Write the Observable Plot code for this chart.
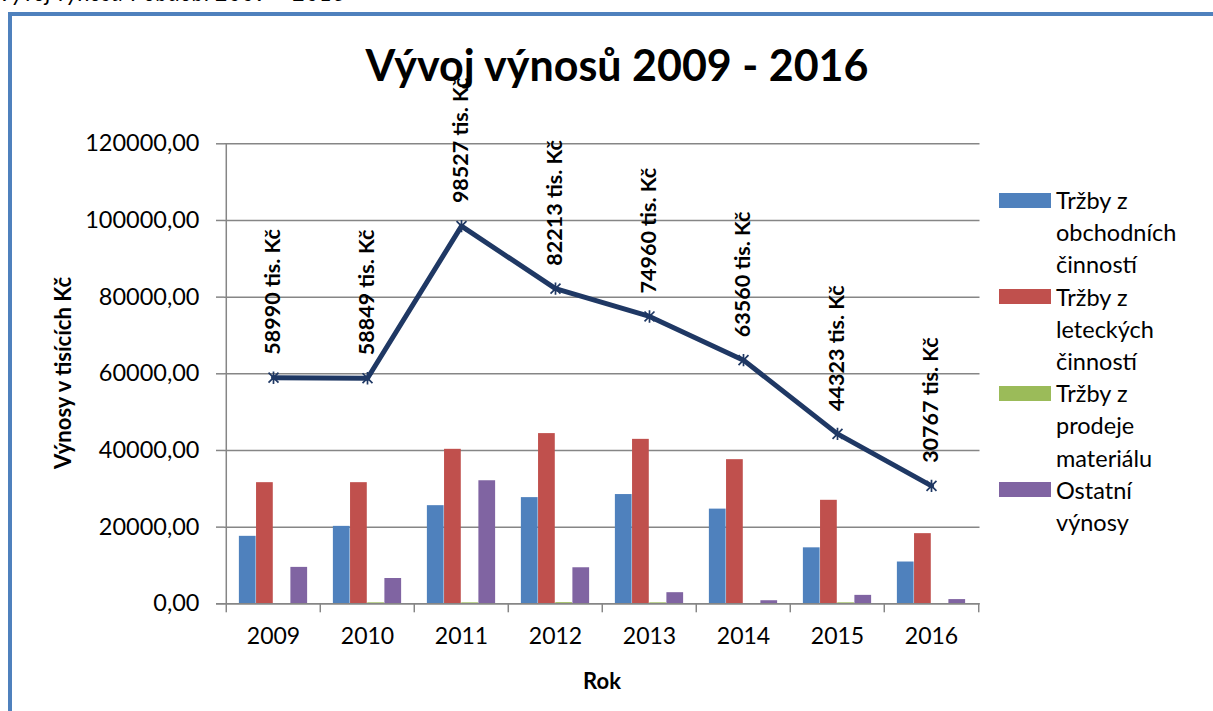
<!DOCTYPE html>
<html>
<head>
<meta charset="utf-8">
<script src="https://cdn.jsdelivr.net/npm/d3@7"></script>
<script src="https://cdn.jsdelivr.net/npm/@observablehq/plot@0.6"></script>
<style>
  html, body { margin: 0; padding: 0; background: #fff; }
  body { width: 1213px; height: 711px; position: relative; overflow: hidden; font-family: Lato, "Open Sans", sans-serif; color: #000; }
  .abs { position: absolute; white-space: nowrap; }
  #frame { position: absolute; left: 8px; top: 12px; width: 1300px; height: 800px; border-left: 4px solid #4F81BD; border-top: 4px solid #4F81BD; }
  #caption { left: -2px; top: -19px; font-size: 23px; font-style: italic; line-height: 23px; }
  #title { left: 0; width: 1234px; text-align: center; top: 43px; font-size: 43px; font-weight: bold; line-height: 43px; }
  #ytitle { left: 62px; top: 373px; font-size: 22px; font-weight: bold; transform: translate(-50%, -50%) rotate(-90deg); }
  #xtitle { left: 602px; top: 680px; font-size: 22px; font-weight: bold; transform: translate(-50%, -50%); }
  #legend { left: 999px; top: 184px; font-size: 23.5px; line-height: 32.2px; }
  .item { display: flex; align-items: flex-start; }
  .sw { width: 52px; height: 15px; margin-top: 8.5px; margin-right: 5px; flex: none; }
  #chart { position: absolute; left: 0; top: 0; }
</style>
</head>
<body>
<div id="frame"></div>
<div id="caption" class="abs">Vývoj výnosů v období 2009 – 2016</div>
<div id="chart"></div>
<div id="title" class="abs">Vývoj výnosů 2009 - 2016</div>
<div id="ytitle" class="abs">Výnosy v tisících Kč</div>
<div id="xtitle" class="abs">Rok</div>
<div id="legend" class="abs"></div>
<script>
// ---- data ----
const years = [2009, 2010, 2011, 2012, 2013, 2014, 2015, 2016];
const obchodni = [17600, 20200, 25600, 27700, 28500, 24700, 14600, 10900];
const letecke = [31600, 31600, 40300, 44400, 42900, 37600, 27000, 18300];
const material = [0, 250, 250, 300, 250, 0, 250, 0];
const ostatni = [9500, 6600, 32100, 9400, 2900, 800, 2200, 1100];
const celkem = [58990, 58849, 98527, 82213, 74960, 63560, 44323, 30767];
const seriesLabels = [
  ["Tržby z", "obchodních", "činností"],
  ["Tržby z", "leteckých", "činností"],
  ["Tržby z", "prodeje", "materiálu"],
  ["Ostatní", "výnosy"]
];
const seriesColors = ["#4F81BD", "#C0504D", "#9BBB59", "#8064A2"];
const yTicks = [0, 20000, 40000, 60000, 80000, 100000, 120000];

// ---- table ----
const seriesValues = [obchodni, letecke, material, ostatni];
const rows = years.map((y, i) => ({year: y, celkem: celkem[i], s: seriesValues.map(v => v[i])}));

// ---- layout ----
const W = 1213, H = 711;
const mL = 224, mR = 233.5, mT = 143.3, mB = 107.7;
const bw = (W - mL - mR) / years.length;
const barW = bw / (4 + 1.5);
const side = (bw - 4 * barW) / 2;
const plotH = H - mT - mB;
const gray = "#868686";
const lineColor = "#1F3864";

const star = {
  draw(ctx, size) {
    const r = Math.sqrt(size) / 2;
    const d = r * 0.8;
    ctx.moveTo(-d, -d); ctx.lineTo(d, d);
    ctx.moveTo(-d, d); ctx.lineTo(d, -d);
    ctx.moveTo(0, -r); ctx.lineTo(0, r);
  }
};

const fmt = d => d.toFixed(2).replace(".", ",");

const marks = [
  Plot.gridY(yTicks, {stroke: gray, strokeOpacity: 1, strokeWidth: 1.5}),
  ...seriesValues.map((vals, i) => Plot.barY(rows, {
    x: "year", y: d => d.s[i], y1: 0,
    fill: seriesColors[i],
    insetLeft: side + i * barW,
    insetRight: side + (3 - i) * barW
  })),
  // y axis line
  Plot.ruleX([years[0]], {dx: -bw / 2, stroke: gray, strokeWidth: 1.5}),
  // x axis line (extends across the left tick)
  Plot.ruleY([0], {stroke: gray, strokeWidth: 1.5, insetLeft: -8}),
  // x category boundary ticks
  Plot.ruleX(years, {dx: -bw / 2, stroke: gray, strokeWidth: 1.5, insetTop: plotH, insetBottom: -9}),
  Plot.ruleX([years[years.length - 1]], {dx: bw / 2, stroke: gray, strokeWidth: 1.5, insetTop: plotH, insetBottom: -9}),
  Plot.axisY(yTicks, {tickSize: 8, tickPadding: 17, tickFormat: fmt, stroke: gray, strokeWidth: 1.5, fill: "#000", fontSize: 23.5, label: null}),
  Plot.axisX(years, {tickSize: 0, tickPadding: 24, tickFormat: d => String(d), fill: "#000", fontSize: 23, label: null}),
  Plot.line(rows, {x: "year", y: "celkem", stroke: lineColor, strokeWidth: 5, strokeLinejoin: "round"}),
  Plot.dot(rows, {x: "year", y: "celkem", symbol: star, r: 7, stroke: lineColor, strokeWidth: 1.7, fill: "none"}),
  Plot.text(rows, {x: "year", y: "celkem", text: d => `${d.celkem} tis. Kč`, rotate: -90, textAnchor: "start", lineAnchor: "middle", dy: -23, fontWeight: "bold", fontSize: 21.5, fill: "#000"})
];

const chart = Plot.plot({
  width: W, height: H,
  marginLeft: mL, marginRight: mR, marginTop: mT, marginBottom: mB,
  style: {fontFamily: "Lato, 'Open Sans', sans-serif", background: "transparent", overflow: "visible"},
  x: {type: "band", domain: years, padding: 0, axis: null},
  y: {domain: [0, 120000], axis: null},
  marks
});
document.getElementById("chart").appendChild(chart);

// ---- legend ----
const legend = document.getElementById("legend");
seriesLabels.forEach((lines, i) => {
  const item = document.createElement("div");
  item.className = "item";
  const sw = document.createElement("div");
  sw.className = "sw";
  sw.style.background = seriesColors[i];
  const txt = document.createElement("div");
  txt.innerHTML = lines.join("<br>");
  item.appendChild(sw);
  item.appendChild(txt);
  legend.appendChild(item);
});
</script>
</body>
</html>
